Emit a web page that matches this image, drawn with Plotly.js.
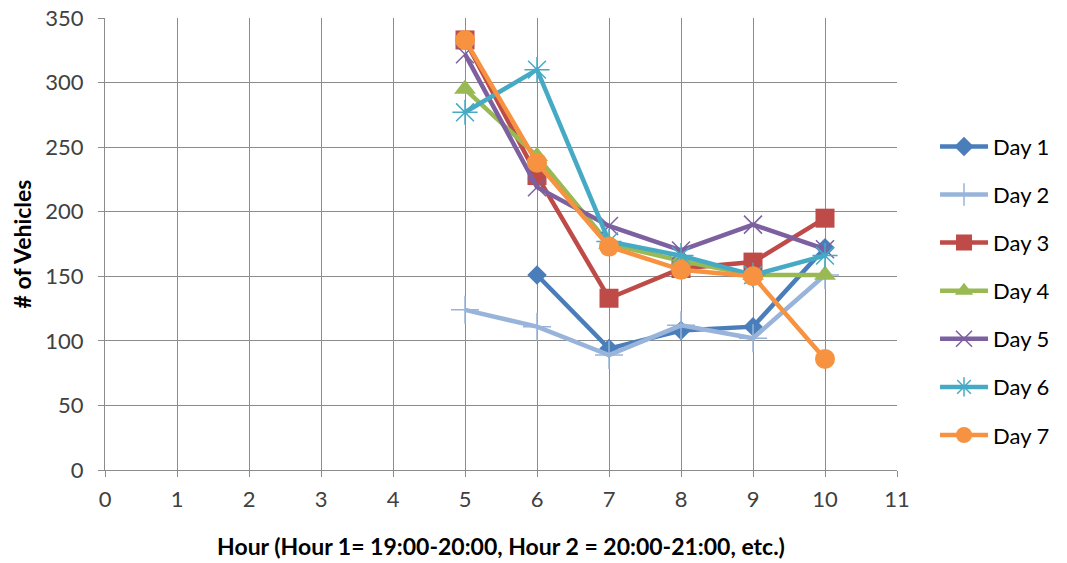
<!DOCTYPE html>
<html>
<head>
<meta charset="utf-8">
<script src="https://cdn.plot.ly/plotly-3.0.1.min.js"></script>
<style>html,body{margin:0;padding:0;background:#fff;}#chart{width:1067px;height:563px;}</style>
</head>
<body>
<div id="chart"></div>
<script>
const seriesNames = ["Day 1","Day 2","Day 3","Day 4","Day 5","Day 6","Day 7"];
const day1X = [6,7,8,9,10];
const day1Y = [151,94,108,111,172];
const day2X = [5,6,7,8,9,10];
const day2Y = [124,111,89,112,102,151];
const day3X = [5,6,7,8,9,10];
const day3Y = [333,228,133,156,161,195];
const day4X = [5,6,7,8,9,10];
const day4Y = [295,243,175,162,151,151];
const day5X = [5,6,7,8,9,10];
const day5Y = [322,219,189,170,190,171];
const day6X = [5,6,7,8,9,10];
const day6Y = [277,310,177,166,151,166];
const day7X = [5,6,7,8,9,10];
const day7Y = [333,238,173,155,150,86];
const xTicks = [0,1,2,3,4,5,6,7,8,9,10,11];
const yTicks = [0,50,100,150,200,250,300,350];

const colors = ["#4A7EBB","#98B4DA","#BE4B48","#98B954","#7D60A0","#46AAC5","#F69240"];
const symbols = ["diamond","cross-thin-open","square","triangle-up","x-thin-open","asterisk-open","circle"];
const sizes = [15,20,19,19,18,21,20];
const xs = [day1X,day2X,day3X,day4X,day5X,day6X,day7X];
const ys = [day1Y,day2Y,day3Y,day4Y,day5Y,day6Y,day7Y];

const traces = seriesNames.map((n,i)=>{
  const thin = symbols[i].indexOf("open")>=0;
  return {
    x: xs[i], y: ys[i], name: n, type: "scatter", mode: "lines+markers",
    legendgroup: "g"+i,
    line: {color: colors[i], width: 4.5},
    marker: {symbol: symbols[i], size: sizes[i], color: colors[i],
      line: {color: colors[i], width: thin ? 1.5 : 0}}
  };
});

const font = "Lato, 'Open Sans', sans-serif";
const layout = {
  width: 1067, height: 563,
  margin: {l: 105, r: 164, t: 18, b: 93},
  paper_bgcolor: "#fff", plot_bgcolor: "#fff",
  showlegend: true,
  font: {family: font, color: "#404040", size: 22},
  xaxis: {
    range: [0,11], tickvals: xTicks, ticktext: xTicks.map(String),
    showgrid: true, gridcolor: "#8C8C8C", gridwidth: 1,
    showline: true, linecolor: "#8C8C8C", linewidth: 1,
    ticks: "outside", ticklen: 6, tickcolor: "#8C8C8C",
    ticklabelstandoff: 4,
    zeroline: false, tickfont: {size: 22, color: "#404040"},
    title: {text: "<b>Hour (Hour 1= 19:00-20:00, Hour 2 = 20:00-21:00, etc.)</b>",
      font: {size: 23, color: "#000"}, standoff: 27}
  },
  yaxis: {
    range: [0,350], tickvals: yTicks,
    showgrid: true, gridcolor: "#8C8C8C", gridwidth: 1,
    showline: true, linecolor: "#8C8C8C", linewidth: 1,
    ticks: "outside", ticklen: 6, tickcolor: "#8C8C8C",
    ticklabelstandoff: 10,
    zeroline: false, tickfont: {size: 22, color: "#404040"},
    title: {text: "<b># of Vehicles</b>", font: {size: 23, color: "#000"}, standoff: 7}
  },
  legend: {
    x: 1.048, xanchor: "left", y: 0.762, yanchor: "top",
    font: {size: 22, color: "#000"},
    tracegroupgap: 16.5, itemwidth: 48,
    bgcolor: "rgba(0,0,0,0)"
  }
};
Plotly.newPlot("chart", traces, layout, {displayModeBar: false, staticPlot: true});
</script>
</body>
</html>
